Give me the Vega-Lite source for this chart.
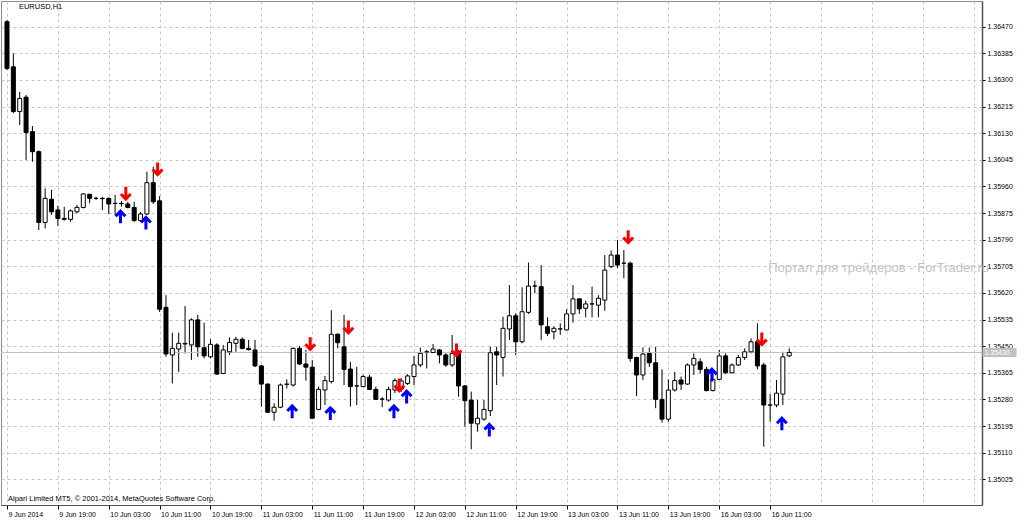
{
  "$schema": "https://vega.github.io/schema/vega-lite/v6.json",
  "width": 981,
  "height": 504,
  "autosize": {"type": "none"},
  "padding": {"left": 1, "top": 1, "right": 42, "bottom": 17},
  "background": "white",
  "config": {
    "font": "Liberation Sans",
    "view": {"stroke": "#8c8c8c", "strokeWidth": 1},
    "axis": {"labelFont": "Liberation Sans", "labelFontSize": 7, "labelColor": "#000000", "title": null}
  },
  "datasets": {
    "candles": [
      {"i":0,"o":1.36486,"h":1.36491,"l":1.36332,"c":1.36337},
      {"i":1,"o":1.36342,"h":1.36385,"l":1.36194,"c":1.36199},
      {"i":2,"o":1.36199,"h":1.36262,"l":1.36156,"c":1.36241},
      {"i":3,"o":1.36245,"h":1.36252,"l":1.36044,"c":1.36132},
      {"i":4,"o":1.36135,"h":1.36153,"l":1.36039,"c":1.36071},
      {"i":5,"o":1.36071,"h":1.36075,"l":1.35821,"c":1.35845},
      {"i":6,"o":1.35845,"h":1.35954,"l":1.35826,"c":1.35922},
      {"i":7,"o":1.35919,"h":1.35949,"l":1.35869,"c":1.35879},
      {"i":8,"o":1.35885,"h":1.35898,"l":1.35834,"c":1.35858},
      {"i":9,"o":1.35858,"h":1.35895,"l":1.35851,"c":1.35855},
      {"i":10,"o":1.35855,"h":1.35887,"l":1.35847,"c":1.35882},
      {"i":11,"o":1.35879,"h":1.35901,"l":1.35874,"c":1.35893},
      {"i":12,"o":1.35893,"h":1.35938,"l":1.35890,"c":1.35936},
      {"i":13,"o":1.35935,"h":1.35936,"l":1.35906,"c":1.35922},
      {"i":14,"o":1.35922,"h":1.35927,"l":1.35917,"c":1.35922},
      {"i":15,"o":1.35922,"h":1.35927,"l":1.35885,"c":1.35921},
      {"i":16,"o":1.35922,"h":1.35925,"l":1.35872,"c":1.35904},
      {"i":17,"o":1.35906,"h":1.35933,"l":1.35869,"c":1.35906},
      {"i":18,"o":1.35906,"h":1.35914,"l":1.35895,"c":1.35905},
      {"i":19,"o":1.35904,"h":1.35911,"l":1.35890,"c":1.35893},
      {"i":20,"o":1.35893,"h":1.35911,"l":1.35847,"c":1.35851},
      {"i":21,"o":1.35851,"h":1.35879,"l":1.35847,"c":1.35872},
      {"i":22,"o":1.35872,"h":1.36007,"l":1.35869,"c":1.35972},
      {"i":23,"o":1.35972,"h":1.36023,"l":1.35904,"c":1.35911},
      {"i":24,"o":1.35914,"h":1.35929,"l":1.35559,"c":1.35568},
      {"i":25,"o":1.35574,"h":1.35613,"l":1.35416,"c":1.35425},
      {"i":26,"o":1.35422,"h":1.35493,"l":1.35331,"c":1.35443},
      {"i":27,"o":1.35441,"h":1.35493,"l":1.35368,"c":1.35459},
      {"i":28,"o":1.35457,"h":1.35578,"l":1.35427,"c":1.35459},
      {"i":29,"o":1.35454,"h":1.35539,"l":1.35406,"c":1.35534},
      {"i":30,"o":1.35534,"h":1.35550,"l":1.35416,"c":1.35448},
      {"i":31,"o":1.35445,"h":1.35525,"l":1.35411,"c":1.35419},
      {"i":32,"o":1.35416,"h":1.35472,"l":1.35411,"c":1.35456},
      {"i":33,"o":1.35454,"h":1.35459,"l":1.35358,"c":1.35361},
      {"i":34,"o":1.35363,"h":1.35454,"l":1.35361,"c":1.35438},
      {"i":35,"o":1.35432,"h":1.35478,"l":1.35422,"c":1.35462},
      {"i":36,"o":1.35459,"h":1.35480,"l":1.35432,"c":1.35472},
      {"i":37,"o":1.35472,"h":1.35478,"l":1.35440,"c":1.35443},
      {"i":38,"o":1.35443,"h":1.35470,"l":1.35436,"c":1.35439},
      {"i":39,"o":1.35438,"h":1.35470,"l":1.35383,"c":1.35387},
      {"i":40,"o":1.35387,"h":1.35390,"l":1.35257,"c":1.35329},
      {"i":41,"o":1.35329,"h":1.35331,"l":1.35237,"c":1.35239},
      {"i":42,"o":1.35239,"h":1.35268,"l":1.35212,"c":1.35255},
      {"i":43,"o":1.35255,"h":1.35331,"l":1.35252,"c":1.35326},
      {"i":44,"o":1.35328,"h":1.35344,"l":1.35315,"c":1.35329},
      {"i":45,"o":1.35326,"h":1.35446,"l":1.35321,"c":1.35443},
      {"i":46,"o":1.35443,"h":1.35451,"l":1.35390,"c":1.35393},
      {"i":47,"o":1.35393,"h":1.35438,"l":1.35340,"c":1.35383},
      {"i":48,"o":1.35383,"h":1.35406,"l":1.35218,"c":1.35220},
      {"i":49,"o":1.35248,"h":1.35321,"l":1.35246,"c":1.35312},
      {"i":50,"o":1.35310,"h":1.35355,"l":1.35262,"c":1.35340},
      {"i":51,"o":1.35337,"h":1.35565,"l":1.35331,"c":1.35488},
      {"i":52,"o":1.35488,"h":1.35491,"l":1.35443,"c":1.35461},
      {"i":53,"o":1.35448,"h":1.35550,"l":1.35326,"c":1.35376},
      {"i":54,"o":1.35377,"h":1.35400,"l":1.35257,"c":1.35321},
      {"i":55,"o":1.35323,"h":1.35384,"l":1.35262,"c":1.35323},
      {"i":56,"o":1.35321,"h":1.35358,"l":1.35319,"c":1.35353},
      {"i":57,"o":1.35351,"h":1.35358,"l":1.35310,"c":1.35312},
      {"i":58,"o":1.35312,"h":1.35321,"l":1.35278,"c":1.35280},
      {"i":59,"o":1.35281,"h":1.35287,"l":1.35255,"c":1.35281},
      {"i":60,"o":1.35278,"h":1.35321,"l":1.35273,"c":1.35312},
      {"i":61,"o":1.35310,"h":1.35347,"l":1.35300,"c":1.35340},
      {"i":62,"o":1.35313,"h":1.35348,"l":1.35304,"c":1.35339},
      {"i":63,"o":1.35331,"h":1.35361,"l":1.35326,"c":1.35355},
      {"i":64,"o":1.35353,"h":1.35419,"l":1.35326,"c":1.35390},
      {"i":65,"o":1.35390,"h":1.35446,"l":1.35384,"c":1.35427},
      {"i":66,"o":1.35432,"h":1.35438,"l":1.35379,"c":1.35432},
      {"i":67,"o":1.35430,"h":1.35457,"l":1.35428,"c":1.35441},
      {"i":68,"o":1.35438,"h":1.35440,"l":1.35395,"c":1.35422},
      {"i":69,"o":1.35422,"h":1.35427,"l":1.35384,"c":1.35390},
      {"i":70,"o":1.35390,"h":1.35486,"l":1.35384,"c":1.35427},
      {"i":71,"o":1.35427,"h":1.35438,"l":1.35289,"c":1.35323},
      {"i":72,"o":1.35323,"h":1.35326,"l":1.35193,"c":1.35276},
      {"i":73,"o":1.35278,"h":1.35305,"l":1.35121,"c":1.35204},
      {"i":74,"o":1.35202,"h":1.35278,"l":1.35177,"c":1.35220},
      {"i":75,"o":1.35217,"h":1.35278,"l":1.35212,"c":1.35248},
      {"i":76,"o":1.35244,"h":1.35448,"l":1.35227,"c":1.35429},
      {"i":77,"o":1.35432,"h":1.35448,"l":1.35326,"c":1.35422},
      {"i":78,"o":1.35414,"h":1.35544,"l":1.35353,"c":1.35507},
      {"i":79,"o":1.35505,"h":1.35645,"l":1.35470,"c":1.35547},
      {"i":80,"o":1.35547,"h":1.35555,"l":1.35422,"c":1.35464},
      {"i":81,"o":1.35464,"h":1.35638,"l":1.35459,"c":1.35560},
      {"i":82,"o":1.35558,"h":1.35717,"l":1.35553,"c":1.35642},
      {"i":83,"o":1.35642,"h":1.35659,"l":1.35619,"c":1.35642},
      {"i":84,"o":1.35640,"h":1.35709,"l":1.35470,"c":1.35518},
      {"i":85,"o":1.35512,"h":1.35542,"l":1.35482,"c":1.35491},
      {"i":86,"o":1.35496,"h":1.35514,"l":1.35472,"c":1.35507},
      {"i":87,"o":1.35505,"h":1.35523,"l":1.35486,"c":1.35505},
      {"i":88,"o":1.35502,"h":1.35568,"l":1.35500,"c":1.35553},
      {"i":89,"o":1.35553,"h":1.35645,"l":1.35525,"c":1.35601},
      {"i":90,"o":1.35601,"h":1.35603,"l":1.35553,"c":1.35569},
      {"i":91,"o":1.35571,"h":1.35595,"l":1.35542,"c":1.35585},
      {"i":92,"o":1.35585,"h":1.35640,"l":1.35542,"c":1.35585},
      {"i":93,"o":1.35581,"h":1.35613,"l":1.35542,"c":1.35603},
      {"i":94,"o":1.35597,"h":1.35741,"l":1.35563,"c":1.35693},
      {"i":95,"o":1.35704,"h":1.35755,"l":1.35699,"c":1.35741},
      {"i":96,"o":1.35741,"h":1.35789,"l":1.35699,"c":1.35709},
      {"i":97,"o":1.35715,"h":1.35757,"l":1.35667,"c":1.35715},
      {"i":98,"o":1.35715,"h":1.35720,"l":1.35400,"c":1.35411},
      {"i":99,"o":1.35414,"h":1.35416,"l":1.35291,"c":1.35358},
      {"i":100,"o":1.35358,"h":1.35446,"l":1.35342,"c":1.35425},
      {"i":101,"o":1.35427,"h":1.35446,"l":1.35384,"c":1.35397},
      {"i":102,"o":1.35397,"h":1.35448,"l":1.35252,"c":1.35280},
      {"i":103,"o":1.35280,"h":1.35376,"l":1.35206,"c":1.35217},
      {"i":104,"o":1.35217,"h":1.35344,"l":1.35209,"c":1.35310},
      {"i":105,"o":1.35310,"h":1.35368,"l":1.35305,"c":1.35340},
      {"i":106,"o":1.35342,"h":1.35353,"l":1.35310,"c":1.35329},
      {"i":107,"o":1.35329,"h":1.35395,"l":1.35326,"c":1.35390},
      {"i":108,"o":1.35390,"h":1.35427,"l":1.35358,"c":1.35411},
      {"i":109,"o":1.35400,"h":1.35411,"l":1.35363,"c":1.35376},
      {"i":110,"o":1.35376,"h":1.35384,"l":1.35306,"c":1.35308},
      {"i":111,"o":1.35308,"h":1.35363,"l":1.35306,"c":1.35344},
      {"i":112,"o":1.35344,"h":1.35438,"l":1.35342,"c":1.35419},
      {"i":113,"o":1.35419,"h":1.35427,"l":1.35361,"c":1.35365},
      {"i":114,"o":1.35365,"h":1.35395,"l":1.35363,"c":1.35390},
      {"i":115,"o":1.35390,"h":1.35422,"l":1.35387,"c":1.35414},
      {"i":116,"o":1.35414,"h":1.35443,"l":1.35406,"c":1.35432},
      {"i":117,"o":1.35432,"h":1.35475,"l":1.35427,"c":1.35464},
      {"i":118,"o":1.35464,"h":1.35523,"l":1.35376,"c":1.35387},
      {"i":119,"o":1.35390,"h":1.35397,"l":1.35129,"c":1.35262},
      {"i":120,"o":1.35262,"h":1.35297,"l":1.35209,"c":1.35262},
      {"i":121,"o":1.35262,"h":1.35342,"l":1.35255,"c":1.35300},
      {"i":122,"o":1.35297,"h":1.35432,"l":1.35262,"c":1.35416},
      {"i":123,"o":1.35419,"h":1.35443,"l":1.35415,"c":1.35430}
    ],
    "sells": [
      {"i":19,"p":1.35938},{"i":24,"p":1.36016},{"i":48,"p":1.35458},{"i":54,"p":1.35511},
      {"i":62,"p":1.35326},{"i":71,"p":1.35438},{"i":98,"p":1.35799},{"i":119,"p":1.35473}
    ],
    "buys": [
      {"i":18,"p":1.35863},{"i":22,"p":1.35843},{"i":45,"p":1.35241},{"i":51,"p":1.35235},
      {"i":61,"p":1.35241},{"i":63,"p":1.35288},{"i":76,"p":1.35182},{"i":111,"p":1.35358},{"i":122,"p":1.35202}
    ]
  },
  "resolve": {"scale": {"x": "shared", "y": "shared"}, "axis": {"y": "independent"}},
  "layer": [
    {
      "data": {"name": "candles"},
      "mark": {"type": "rule", "color": "#000000", "strokeWidth": 1},
      "encoding": {
        "x": {
          "field": "i", "type": "quantitative",
          "scale": {"domain": [-0.1556, 152.53], "nice": false, "zero": false},
          "axis": {
            "orient": "bottom",
            "values": [0,4,8,12,16,20,24,28,32,36,40,44,48,52,56,60,64,68,72,76,80,84,88,92,96,100,104,108,112,116,120,124,128,132,136,140,144,148,152],
            "grid": true, "gridColor": "#c8c8c8", "gridDash": [3, 3], "gridWidth": 1,
            "domain": true, "domainColor": "#505050", "domainWidth": 1,
            "tickSize": 4, "tickColor": "#000000",
            "tickOpacity": {"condition": {"test": "datum.value % 8 === 0 && datum.value <= 120", "value": 1}, "value": 0},
            "labelAlign": "left", "labelBaseline": "top", "labelPadding": 1, "labelOffset": 1,
            "labelOverlap": false, "labelBound": false, "labelFlush": false,
            "labelExpr": "(datum.value % 8 === 0 && datum.value <= 120) ? ['9 Jun 2014','9 Jun 19:00','10 Jun 03:00','10 Jun 11:00','10 Jun 19:00','11 Jun 03:00','11 Jun 11:00','11 Jun 19:00','12 Jun 03:00','12 Jun 11:00','12 Jun 19:00','13 Jun 03:00','13 Jun 11:00','13 Jun 19:00','16 Jun 03:00','16 Jun 11:00'][datum.value / 8] : ''"
          }
        },
        "y": {
          "field": "l", "type": "quantitative",
          "scale": {"domain": [1.349429, 1.365521], "nice": false, "zero": false},
          "axis": {
            "orient": "right",
            "values": [1.35025,1.3511,1.35195,1.3528,1.35365,1.3545,1.35535,1.3562,1.35705,1.3579,1.35875,1.3596,1.36045,1.3613,1.36215,1.363,1.36385,1.3647],
            "format": ".5f",
            "grid": true, "gridColor": "#c8c8c8", "gridDash": [3, 3], "gridWidth": 1,
            "domain": true, "domainColor": "#505050", "domainWidth": 1.5,
            "tickSize": 3, "tickColor": "#000000", "labelPadding": 2,
            "labelOverlap": false, "labelBound": false, "labelFlush": false
          }
        },
        "y2": {"field": "h"}
      }
    },
    {
      "data": {"values": [{}]},
      "mark": {"type": "rule", "color": "#c0c0c0", "strokeWidth": 1},
      "encoding": {
        "y": {
          "datum": 1.3543, "type": "quantitative",
          "scale": {"domain": [1.349429, 1.365521], "nice": false, "zero": false},
          "axis": {
            "orient": "right", "values": [1.3543], "format": ".5f",
            "grid": false, "domain": false,
            "tickSize": 34, "tickWidth": 9, "tickColor": "#c0c0c0",
            "labelColor": "#ffffff", "labelPadding": -32,
            "labelOverlap": false, "labelBound": false, "zindex": 2
          }
        }
      }
    },
    {
      "data": {"name": "candles"},
      "mark": {"type": "bar", "width": 4, "stroke": "#000000", "strokeWidth": 1},
      "encoding": {
        "x": {"field": "i", "type": "quantitative", "scale": {"domain": [-0.1556, 152.53], "nice": false, "zero": false}},
        "y": {"field": "o", "type": "quantitative", "scale": {"domain": [1.349429, 1.365521], "nice": false, "zero": false}, "axis": null},
        "y2": {"field": "c"},
        "fill": {"condition": {"test": "datum.c > datum.o", "value": "#ffffff"}, "value": "#000000"}
      }
    },
    {
      "data": {"name": "sells"},
      "mark": {"type": "point", "shape": "M0,-1L0,0.8M-0.75,0.1L0,0.88L0.75,0.1", "filled": false, "stroke": "#ff0000", "strokeWidth": 3, "size": 169, "opacity": 1, "xOffset": -2, "strokeJoin": "miter"},
      "encoding": {
        "x": {"field": "i", "type": "quantitative", "scale": {"domain": [-0.1556, 152.53], "nice": false, "zero": false}},
        "y": {"field": "p", "type": "quantitative", "scale": {"domain": [1.349429, 1.365521], "nice": false, "zero": false}, "axis": null}
      }
    },
    {
      "data": {"name": "buys"},
      "mark": {"type": "point", "shape": "M0,1L0,-0.8M-0.75,-0.1L0,-0.88L0.75,-0.1", "filled": false, "stroke": "#0000ff", "strokeWidth": 3, "size": 169, "opacity": 1, "xOffset": -1, "strokeJoin": "miter"},
      "encoding": {
        "x": {"field": "i", "type": "quantitative", "scale": {"domain": [-0.1556, 152.53], "nice": false, "zero": false}},
        "y": {"field": "p", "type": "quantitative", "scale": {"domain": [1.349429, 1.365521], "nice": false, "zero": false}, "axis": null}
      }
    },
    {
      "data": {"values": [{}]},
      "mark": {"type": "text", "text": "EURUSD,H1", "align": "left", "baseline": "middle", "fontSize": 7.5, "color": "#000000"},
      "encoding": {
        "x": {"datum": 1.87, "type": "quantitative", "scale": {"domain": [-0.1556, 152.53], "nice": false, "zero": false}},
        "y": {"datum": 1.36533, "type": "quantitative", "scale": {"domain": [1.349429, 1.365521], "nice": false, "zero": false}, "axis": null}
      }
    },
    {
      "data": {"values": [{}]},
      "mark": {"type": "text", "text": "Alpari Limited MT5, © 2001-2014, MetaQuotes Software Corp.", "align": "left", "baseline": "middle", "fontSize": 7.5, "color": "#000000"},
      "encoding": {
        "x": {"datum": 0.16, "type": "quantitative", "scale": {"domain": [-0.1556, 152.53], "nice": false, "zero": false}},
        "y": {"datum": 1.34962, "type": "quantitative", "scale": {"domain": [1.349429, 1.365521], "nice": false, "zero": false}, "axis": null}
      }
    },
    {
      "data": {"values": [{}]},
      "mark": {"type": "text", "text": "Портал для трейдеров - ForTrader.ru", "align": "left", "baseline": "middle", "fontSize": 13, "color": "#c4c4c4"},
      "encoding": {
        "x": {"datum": 119.7, "type": "quantitative", "scale": {"domain": [-0.1556, 152.53], "nice": false, "zero": false}},
        "y": {"datum": 1.357, "type": "quantitative", "scale": {"domain": [1.349429, 1.365521], "nice": false, "zero": false}, "axis": null}
      }
    }
  ]
}
